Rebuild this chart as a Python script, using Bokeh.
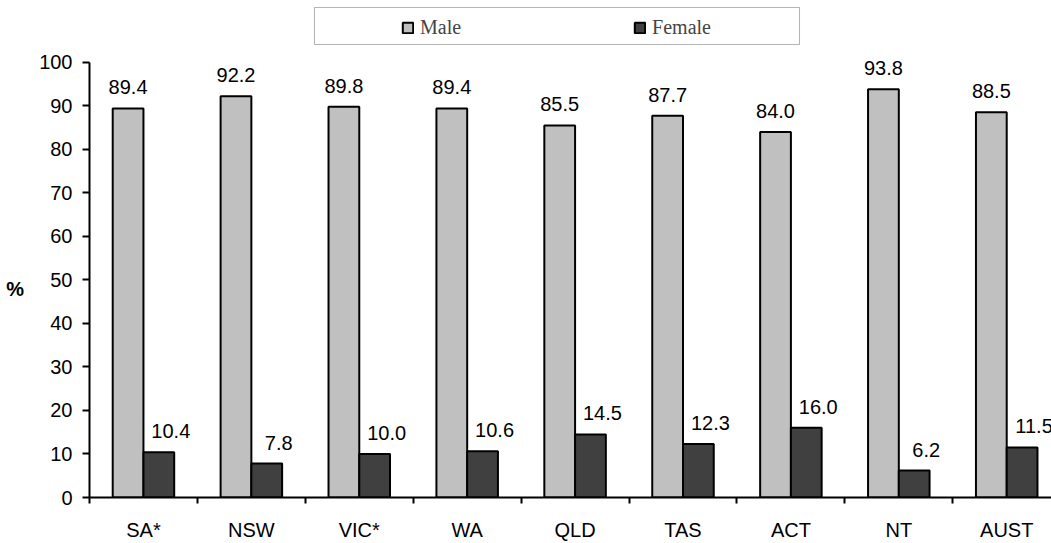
from bokeh.plotting import figure
from bokeh.models import ColumnDataSource, FixedTicker, Legend, LegendItem, LabelSet, BoxAnnotation
from bokeh.core.properties import value
from bokeh.embed import file_html
from bokeh.resources import INLINE

categories = ["SA*", "NSW", "VIC*", "WA", "QLD", "TAS", "ACT", "NT", "AUST"]
male = [89.4, 92.2, 89.8, 89.4, 85.5, 87.7, 84.0, 93.8, 88.5]
female = [10.4, 7.8, 10.0, 10.6, 14.5, 12.3, 16.0, 6.2, 11.5]
y_ticks = [0, 10, 20, 30, 40, 50, 60, 70, 80, 90, 100]

n = len(categories)
xs = list(range(n))
bw = 0.285
src = ColumnDataSource(dict(
    xm=[x - bw / 2 for x in xs], xf=[x + bw / 2 for x in xs],
    male=male, female=female,
    ml=[f"{v:.1f}" for v in male], fl=[f"{v:.1f}" for v in female],
))

FS = "20px"
SANS = "Liberation Sans"

p = figure(width=1051, height=543, output_backend="svg", toolbar_location=None,
           x_range=(-0.5, 8.415), y_range=(0, 114.2),
           min_border_left=89, min_border_right=0, min_border_top=0, min_border_bottom=43)
p.outline_line_color = None
p.xgrid.visible = False
p.ygrid.visible = False
p.background_fill_color = "white"

# legend frame box (decoration)
p.add_layout(BoxAnnotation(left=1.585, right=6.08, bottom=104.1, top=112.6,
                           fill_color="white", fill_alpha=1, line_color="black",
                           line_width=1, level="overlay"))

rm = p.vbar(x="xm", top="male", width=bw, source=src, fill_color="#c0c0c0",
            line_color="black", line_width=2)
rf = p.vbar(x="xf", top="female", width=bw, source=src, fill_color="#404040",
            line_color="black", line_width=2)

p.add_layout(LabelSet(x="xm", y="male", text="ml", source=src, text_align="center",
                      text_baseline="bottom", y_offset=14, text_font=value(SANS),
                      text_font_size=value(FS), text_color="black"))
p.add_layout(LabelSet(x="xf", y="female", text="fl", source=src, text_align="center",
                      text_baseline="bottom", x_offset=12, y_offset=14, text_font=value(SANS),
                      text_font_size=value(FS), text_color="black"))

# x axis
xa = p.xaxis[0]
xa.ticker = FixedTicker(ticks=xs, minor_ticks=[i + 0.5 for i in range(-1, n)])
xa.major_label_overrides = {i: c for i, c in enumerate(categories)}
xa.major_tick_line_color = None
xa.major_tick_out = 6
xa.major_tick_in = 0
xa.minor_tick_out = 6
xa.minor_tick_in = 0
xa.minor_tick_line_width = 2
xa.minor_tick_line_color = "black"
xa.axis_line_width = 2
xa.major_label_standoff = 15
xa.major_label_text_font = SANS
xa.major_label_text_font_size = FS
xa.major_label_text_color = "black"

# y axis
ya = p.yaxis[0]
ya.ticker = FixedTicker(ticks=y_ticks)
ya.bounds = (0, 100)
ya.minor_tick_line_color = None
ya.major_tick_out = 7
ya.major_tick_in = 0
ya.major_tick_line_width = 2
ya.axis_line_width = 2
ya.major_label_standoff = 10
ya.major_label_text_font = SANS
ya.major_label_text_font_size = FS
ya.major_label_text_color = "black"
ya.axis_label = "\n\n\n%"
ya.axis_label_orientation = "horizontal"
ya.axis_label_standoff = 12
ya.axis_label_text_font = SANS
ya.axis_label_text_font_size = FS
ya.axis_label_text_font_style = "bold"
ya.axis_label_text_color = "black"

legend = Legend(items=[LegendItem(label="Male", renderers=[rm]),
                       LegendItem(label="Female", renderers=[rf])],
                orientation="horizontal", location=(312, 458),
                label_text_font="Liberation Serif", label_text_font_size=FS,
                glyph_width=13, glyph_height=13, label_standoff=6,
                padding=0, spacing=172, margin=0,
                border_line_color=None, background_fill_alpha=0)
p.add_layout(legend, "center")

open("out.html", "w").write(file_html(p, INLINE))
